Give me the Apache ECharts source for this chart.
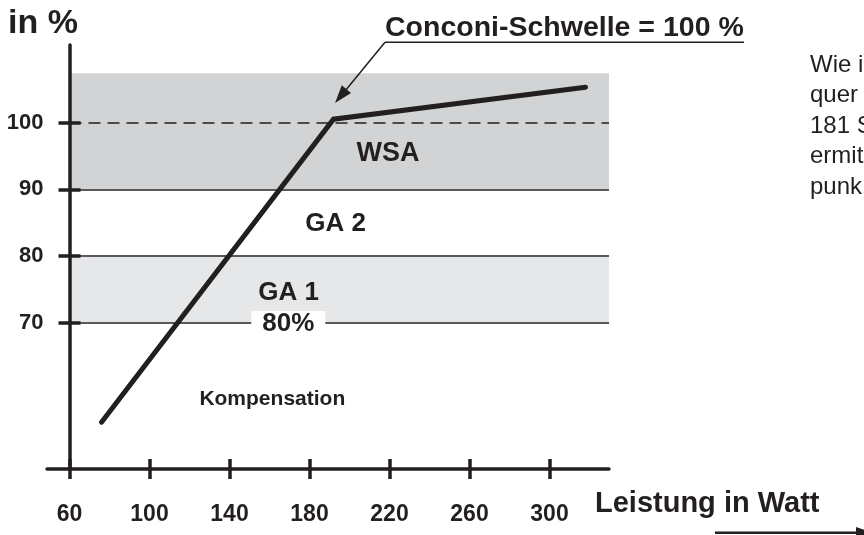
<!DOCTYPE html>
<html><head><meta charset="utf-8">
<script src="https://cdn.jsdelivr.net/npm/echarts@6/dist/echarts.min.js"></script>
<style>html,body{margin:0;padding:0;background:#fff}#c{width:864px;height:535px}</style>
</head><body><div id="c"></div>
<script>
// ---- data ----
const xTicks = [60, 100, 140, 180, 220, 260, 300];
const yTicks = [70, 80, 90, 100];
const curveX = [76, 192, 318];
const curveY = [55.1, 100.5, 105.3];
const zoneLabels = ['WSA', 'GA 2', 'GA 1', '80%', 'Kompensation'];
const zoneX = [219.3, 193.1, 169.6, 169.4, 161.4];
const zoneY = [95.4, 84.8, 74.5, 69.8, 58.5];
const bandWSA = [90, 107.4];
const bandGA1 = [70, 80];
const levelLines = [70, 80, 90];
const conconiLevel = 100;
const xRange = [48.75, 329.75];
const yRange = [48.08, 111.62];

// ---- chart ----
const FONT = '"Liberation Sans", Arial, Helvetica, sans-serif';
const INK = '#231f20';
const chart = echarts.init(document.getElementById('c'), null, {renderer: 'canvas'});

const axisX = (inside) => ({
  type: 'value', position: 'bottom', min: xRange[0], max: xRange[1], z: 8,
  axisLine: {show: !inside, lineStyle: {color: INK, width: 3.5}},
  axisTick: {show: true, inside: inside, customValues: xTicks, length: 10, lineStyle: {color: INK, width: 3.5}},
  axisLabel: {show: !inside, customValues: xTicks, margin: 34, color: INK, fontSize: 23, fontWeight: 'bold', fontFamily: FONT},
  splitLine: {show: false}
});
const axisY = (inside) => ({
  type: 'value', position: 'left', offset: -22.5, min: yRange[0], max: yRange[1], z: 8,
  axisLine: {show: !inside, lineStyle: {color: INK, width: 3.5}},
  axisTick: {show: true, inside: inside, customValues: yTicks, length: 11, lineStyle: {color: INK, width: 3.5}},
  axisLabel: {show: !inside, customValues: yTicks, margin: 26, color: INK, fontSize: 22, fontWeight: 'bold', fontFamily: FONT},
  splitLine: {show: false}
});

const levelMarkData = levelLines.map(v => [{coord: [xTicks[0], v]}, {coord: [xRange[1], v]}]);

chart.setOption({
  animation: false,
  backgroundColor: '#fff',
  grid: {left: 47, right: 255, top: 45, bottom: 66},
  xAxis: [axisX(false), axisX(true)],
  yAxis: [axisY(false), axisY(true)],
  series: [
    {
      type: 'line', data: [], silent: true, z: 1,
      markArea: {
        silent: true,
        data: [
          [{coord: [xTicks[0], bandWSA[0]], itemStyle: {color: '#d2d3d5'}}, {coord: [xRange[1], bandWSA[1]]}],
          [{coord: [xTicks[0], bandGA1[0]], itemStyle: {color: '#e6e7e8'}}, {coord: [xRange[1], bandGA1[1]]}]
        ]
      },
      markLine: {
        silent: true, symbol: ['none', 'none'], label: {show: false},
        lineStyle: {color: '#58595b', width: 2, type: 'solid'},
        data: levelMarkData.concat([
          [{coord: [xTicks[0], conconiLevel], lineStyle: {color: INK, width: 1.5, type: [12, 7]}}, {coord: [xRange[1], conconiLevel]}]
        ])
      }
    },
    {
      type: 'line', name: 'Herzfrequenz', z: 5,
      data: curveX.map((x, i) => [x, curveY[i]]),
      symbol: 'none',
      lineStyle: {color: INK, width: 5, cap: 'round', join: 'miter'}
    },
    {
      type: 'scatter', z: 10, symbolSize: 1, silent: true,
      itemStyle: {color: 'rgba(0,0,0,0)', opacity: 1},
      label: {show: true, position: 'inside', formatter: '{b}', color: INK, opacity: 1, fontSize: 26, fontWeight: 'bold', fontFamily: FONT},
      data: zoneLabels.map((n, i) => {
        const item = {name: n, value: [zoneX[i], zoneY[i]]};
        if (n === 'Kompensation') item.label = {fontSize: 21};
        if (n === '80%') item.label = {backgroundColor: '#ffffff', padding: [0, 11]};
        if (n === 'WSA') item.label = {fontSize: 27};
        return item;
      })
    }
  ],
  graphic: [
    {type: 'text', z: 100, x: 8, y: 24, style: {text: 'in %', font: 'bold 34px ' + FONT, fill: INK, verticalAlign: 'middle'}},
    {type: 'text', z: 100, x: 385, y: 28, style: {text: 'Conconi-Schwelle = 100 %', font: 'bold 28.5px ' + FONT, fill: INK, verticalAlign: 'middle'}},
    {type: 'line', z: 100, shape: {x1: 385, y1: 42.3, x2: 744, y2: 42.3}, style: {stroke: INK, lineWidth: 1.5}},
    {type: 'line', z: 100, shape: {x1: 385, y1: 42.3, x2: 345, y2: 91}, style: {stroke: INK, lineWidth: 1.5}},
    {type: 'polygon', z: 100, shape: {points: [[335, 103], [351, 92.9], [341.8, 85.3]]}, style: {fill: INK}},
    {type: 'text', z: 100, x: 810, y: 50, style: {text: 'Wie i\nquer\n181 S\nermit\npunk', font: '24px ' + FONT, lineHeight: 30.5, fill: INK, verticalAlign: 'top'}},
    {type: 'text', z: 100, x: 595, y: 503.5, style: {text: 'Leistung in Watt', font: 'bold 29px ' + FONT, fill: INK, verticalAlign: 'middle'}},
    {type: 'line', z: 100, shape: {x1: 715, y1: 532.7, x2: 858, y2: 532.7}, style: {stroke: INK, lineWidth: 2.5}},
    {type: 'polygon', z: 100, shape: {points: [[856, 527], [856, 538.5], [872, 532.7]]}, style: {fill: INK}}
  ]
});
</script>
</body></html>
